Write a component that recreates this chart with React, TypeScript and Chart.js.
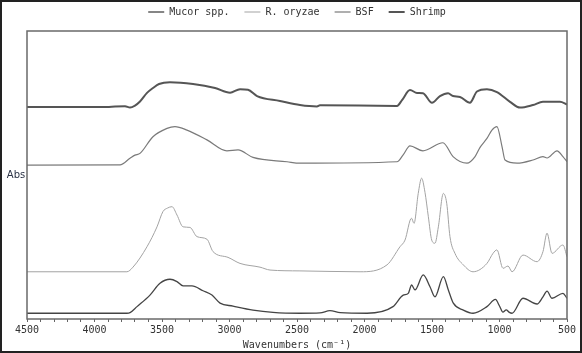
import React, { useEffect, useRef } from "react";
import { Chart, registerables } from "chart.js";

Chart.register(...registerables);

// Wavenumbers (cm-1) and offset absorbance values
const mucorWn = [4500, 3760, 3737, 3685, 3589, 3515, 3441, 3389, 3344, 3278, 3196, 3130, 3070, 2974, 2826, 2678, 2478, 2330, 2256, 2180, 1981, 1789, 1713, 1676, 1651, 1626, 1565, 1515, 1478, 1416, 1379, 1342, 1268, 1196, 1093, 1030, 1000, 975, 950, 930, 907, 826, 722, 678, 648, 611, 530, 500];
const mucorAbs = [2.0, 2.0, 2.2, 4.3, 8.3, 12.4, 13.8, 13.0, 11.5, 11.5, 9.8, 8.3, 5.5, 4.5, 3.1, 2.3, 2.0, 2.1, 2.9, 2.2, 2.0, 4.3, 8.3, 8.9, 11.8, 10.1, 15.3, 11.2, 7.7, 14.7, 10.1, 5.5, 3.1, 2.0, 4.3, 6.8, 4.5, 2.4, 3.2, 2.4, 2.0, 7.2, 5.2, 7.7, 9.7, 7.2, 8.9, 7.2];

const oryzaeWn = [4500, 3760, 3715, 3611, 3537, 3493, 3460, 3426, 3389, 3344, 3293, 3241, 3167, 3122, 3011, 2922, 2774, 2700, 2478, 2033, 1833, 1737, 1700, 1652, 1633, 1602, 1577, 1552, 1527, 1502, 1478, 1453, 1416, 1391, 1367, 1330, 1268, 1196, 1093, 1048, 1019, 974, 937, 907, 826, 722, 678, 648, 611, 530, 500];
const oryzaeAbs = [16.4, 16.4, 18.0, 25.1, 32.0, 37.3, 38.5, 39.0, 36.1, 32.0, 31.8, 28.6, 27.7, 23.4, 21.4, 19.3, 18.0, 17.0, 16.7, 16.4, 18.8, 25.1, 27.4, 35.0, 33.2, 43.6, 48.9, 44.0, 35.5, 27.4, 26.3, 32.0, 43.6, 40.2, 28.6, 22.8, 18.8, 16.4, 19.3, 22.8, 24.0, 17.6, 18.4, 16.4, 22.2, 19.9, 23.4, 29.8, 22.8, 25.7, 21.6];

const bsfWn = [4500, 3811, 3737, 3700, 3663, 3567, 3463, 3404, 3315, 3167, 3019, 2937, 2826, 2574, 2478, 1759, 1715, 1663, 1567, 1419, 1344, 1241, 1181, 1144, 1093, 1056, 1019, 981, 959, 870, 752, 678, 648, 574, 530, 500];
const bsfAbs = [53.4, 53.5, 55.8, 56.9, 57.5, 63.3, 66.2, 66.8, 65.6, 62.2, 58.4, 58.7, 56.1, 54.6, 54.1, 54.6, 56.9, 60.1, 58.4, 61.2, 56.4, 54.1, 56.4, 59.6, 62.7, 65.6, 66.8, 59.8, 55.2, 54.1, 55.2, 56.4, 55.9, 58.4, 56.4, 54.6];

const shrimpWn = [4500, 3907, 3848, 3774, 3737, 3700, 3663, 3611, 3567, 3522, 3441, 3270, 3107, 2996, 2922, 2863, 2796, 2626, 2478, 2352, 2330, 1759, 1722, 1663, 1611, 1567, 1500, 1441, 1381, 1344, 1293, 1219, 1167, 1093, 1019, 922, 848, 752, 678, 552, 500];
const shrimpAbs = [73.6, 73.6, 73.8, 73.9, 73.4, 74.1, 75.5, 78.5, 80.2, 81.6, 82.2, 81.6, 80.2, 78.6, 79.8, 79.6, 77.4, 75.7, 74.3, 73.8, 74.2, 74.0, 76.0, 79.5, 78.5, 78.4, 75.1, 77.4, 78.4, 77.4, 77.1, 75.1, 79.0, 79.8, 78.8, 75.4, 73.4, 74.3, 75.4, 75.4, 74.5];

const xTicksMin = 500;
const xTicksMax = 4500;
const xTickStep = 100;
const xLabelStep = 500;

const MONO = '"DejaVu Sans Mono", monospace';

function pts(wn: number[], ab: number[]) {
  return wn.map((w, i) => ({ x: w, y: ab[i] }));
}

const decorPlugin = {
  id: "decor",
  afterDraw(chart: any) {
    const { ctx, chartArea: a } = chart;
    ctx.save();
    ctx.strokeStyle = "#6a6a6a";
    ctx.lineWidth = 1.5;
    ctx.strokeRect(a.left, a.top, a.right - a.left, a.bottom - a.top);
    ctx.strokeStyle = "#222";
    ctx.lineWidth = 2;
    ctx.strokeRect(1, 1, chart.width - 2, chart.height - 2);
    ctx.fillStyle = "#2b3346";
    ctx.font = '10px "DejaVu Sans", sans-serif';
    ctx.textAlign = "center";
    ctx.textBaseline = "middle";
    ctx.fillText("Abs", 16, 175);
    ctx.restore();
  },
};

export default function App() {
  const ref = useRef<HTMLCanvasElement | null>(null);
  useEffect(() => {
    if (!ref.current) return;
    const common = { pointRadius: 0, fill: false, cubicInterpolationMode: "monotone" as const };
    const chart = new Chart(ref.current, {
      type: "line",
      data: {
        datasets: [
          { label: "Mucor spp.", data: pts(mucorWn, mucorAbs), borderColor: "#444444", borderWidth: 1.3, ...common },
          { label: "R. oryzae", data: pts(oryzaeWn, oryzaeAbs), borderColor: "#a3a3a3", borderWidth: 1, ...common },
          { label: "BSF", data: pts(bsfWn, bsfAbs), borderColor: "#7a7a7a", borderWidth: 1.2, ...common },
          { label: "Shrimp", data: pts(shrimpWn, shrimpAbs), borderColor: "#555555", borderWidth: 2, ...common },
        ],
      },
      options: {
        responsive: false,
        animation: false,
        layout: { padding: { left: 0, right: 15, top: -8, bottom: 2 } },
        plugins: {
          tooltip: { enabled: false },
          legend: {
            position: "top",
            fullSize: false,
            labels: {
              usePointStyle: true,
              pointStyleWidth: 16,
              pointStyle: "line",
              boxHeight: 10,
              padding: 15,
              color: "#333",
              font: { family: MONO, size: 10 },
            },
          },
        },
        scales: {
          x: {
            type: "linear",
            reverse: true,
            min: xTicksMin,
            max: xTicksMax,
            afterFit: (s: any) => { s.height = 32; },
            border: { display: false },
            grid: { drawOnChartArea: false, drawTicks: true, tickLength: 3, color: "#666" },
            ticks: {
              stepSize: xTickStep,
              autoSkip: false,
              maxRotation: 0,
              minRotation: 0,
              padding: 2,
              color: "#333",
              font: { family: MONO, size: 10 },
              callback: (v: any) => (Number(v) % xLabelStep === 0 ? String(v) : ""),
            },
            title: {
              display: true,
              text: "Wavenumbers (cm⁻¹)",
              color: "#333",
              font: { family: MONO, size: 10 },
              padding: { top: 0, bottom: 0 },
            },
          },
          xTop: {
            type: "linear",
            position: "top",
            afterFit: (s: any) => { s.height = 4; },
            border: { display: false },
            grid: { display: false },
            ticks: { display: false },
          },
          y: {
            min: 0,
            max: 100,
            afterFit: (s: any) => { s.width = 27; },
            border: { display: false },
            grid: { display: false },
            ticks: { display: false },
          },
        },
      },
      plugins: [decorPlugin],
    });
    return () => chart.destroy();
  }, []);
  return (
    <div style={{ position: "fixed", left: 0, top: 0, width: 582, height: 353, background: "#fff" }}>
      <canvas ref={ref} width={582} height={353} style={{ display: "block" }} />
    </div>
  );
}
